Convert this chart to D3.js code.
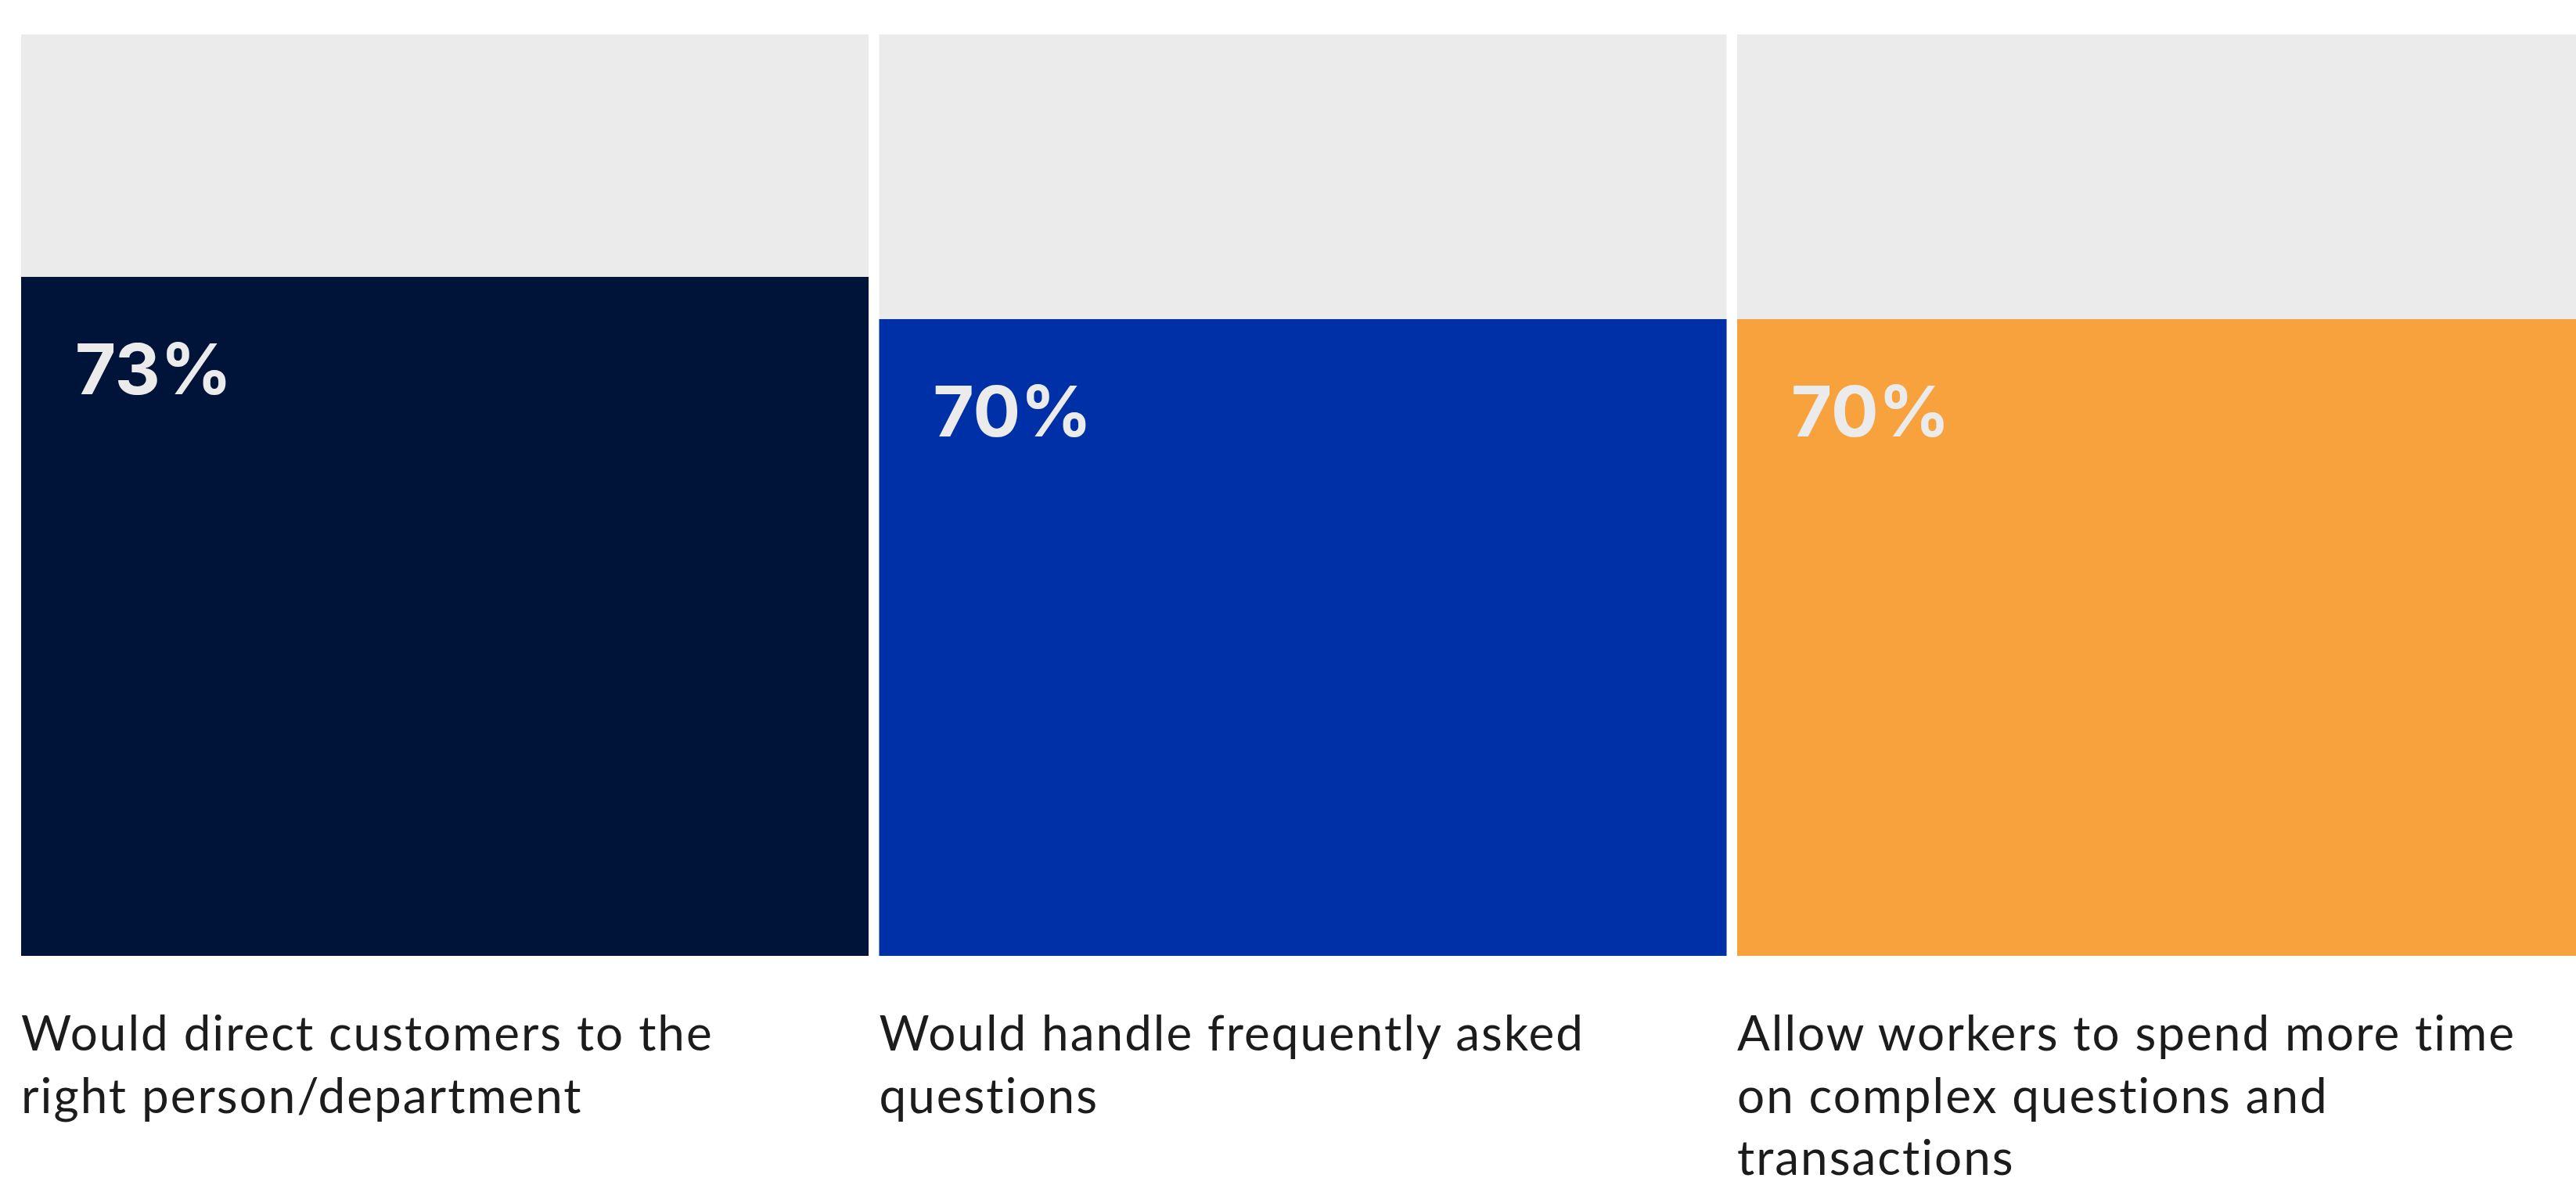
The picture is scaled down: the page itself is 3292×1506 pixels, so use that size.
<!DOCTYPE html>
<html>
<head>
<meta charset="utf-8">
<script src="https://cdn.jsdelivr.net/npm/d3@7"></script>
<style>
  body { margin: 0; background: #fff; }
  svg { display: block; }
  .value { font-family: Inter, "Open Sans", sans-serif; font-weight: 700; }
  .cat { font-family: Lato, "Open Sans", sans-serif; letter-spacing: 2px; }
</style>
</head>
<body>
<div id="chart"></div>
<script>
// Data
// ============================================================================
const categories = ["direct", "faq", "time"];
const values = [73, 70, 70];
const valueLabels = ["73%", "70%", "70%"];
const labelLines = [
    ["Would direct customers to the", "right person/department"],
    ["Would handle frequently asked", "questions"],
    ["Allow workers to spend more time", "on complex questions and", "transactions"],
];
const colors = ["#00143a", "#0030a8", "#f8a23e"];

const width = 3292,
    height = 1506,
    margin = {top: 44, left: 27, bottom: 284};

// Plot
// ============================================================================
let svg = d3.select("#chart")
    .append("svg")
        .attr("width", width)
        .attr("height", height);

let xScale = d3.scaleBand()
    .domain(categories)
    .range([margin.left, margin.left + 3276])
    .paddingInner(0.0123)
    .paddingOuter(0);

let yScale = d3.scaleLinear()
    .domain([24.78, 90.22])
    .range([height - margin.bottom, margin.top]);

let data = categories.map((c, i) => ({
    key: c, value: values[i], label: valueLabels[i], lines: labelLines[i], color: colors[i]
}));

// Background tracks
svg.selectAll("rect.track")
    .data(data)
    .enter()
    .append("rect")
        .attr("class", "track")
        .attr("x", d => xScale(d.key))
        .attr("y", yScale(yScale.domain()[1]))
        .attr("width", xScale.bandwidth())
        .attr("height", yScale(yScale.domain()[0]) - yScale(yScale.domain()[1]))
        .attr("fill", "#ebebeb");

// Bars
svg.selectAll("rect.bar")
    .data(data)
    .enter()
    .append("rect")
        .attr("class", "bar")
        .attr("x", d => xScale(d.key))
        .attr("y", d => yScale(d.value))
        .attr("width", xScale.bandwidth())
        .attr("height", d => yScale(yScale.domain()[0]) - yScale(d.value))
        .attr("fill", d => d.color);

// Value labels
svg.selectAll("text.value")
    .data(data)
    .enter()
    .append("text")
        .attr("class", "value")
        .attr("x", d => xScale(d.key) + 69)
        .attr("y", d => yScale(d.value) + 150)
        .attr("font-size", 90)
        .attr("fill", "#ebebeb")
        .text(d => d.label);

// Category labels
let cats = svg.selectAll("text.cat")
    .data(data)
    .enter()
    .append("text")
        .attr("class", "cat")
        .attr("x", d => xScale(d.key))
        .attr("y", yScale(yScale.domain()[0]) + 121)
        .attr("font-size", 62)
        .attr("fill", "#1c1c1c");

cats.selectAll("tspan")
    .data(d => d.lines.map(l => ({line: l, x: xScale(d.key)})))
    .enter()
    .append("tspan")
        .attr("x", d => d.x)
        .attr("dy", (d, i) => i === 0 ? 0 : 79.5)
        .text(d => d.line);
</script>
</body>
</html>
